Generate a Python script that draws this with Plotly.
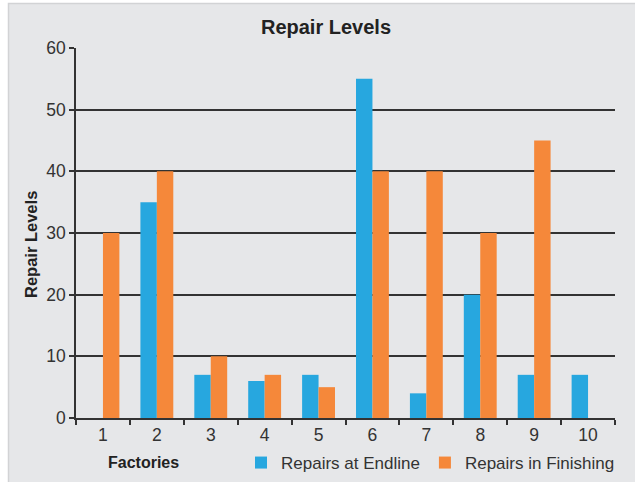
import plotly.graph_objects as go

factories = ["1", "2", "3", "4", "5", "6", "7", "8", "9", "10"]
endline = [0, 35, 7, 6, 7, 55, 4, 20, 7, 7]
finishing = [30, 40, 10, 7, 5, 40, 40, 30, 45, 0]
y_ticks = [0, 10, 20, 30, 40, 50, 60]

W, H = 635, 482
L, R, T, B = 76, 20, 48, 64
pw, ph = W - L - R, H - T - B

def px(x):
    return (x - L) / pw

def py(y):
    return (H - B - y) / ph

font = "Liberation Sans, Arial, sans-serif"
narrow = "Liberation Sans Narrow, Arial Narrow, Liberation Sans, sans-serif"

fig = go.Figure()
fig.add_trace(go.Bar(x=factories, y=endline, name="Repairs at Endline",
                     marker=dict(color="#27a7df", line=dict(width=0))))
fig.add_trace(go.Bar(x=factories, y=finishing, name="Repairs in Finishing",
                     marker=dict(color="#f5883a", line=dict(width=0))))

fig.update_layout(
    width=W, height=H,
    margin=dict(l=L, r=R, t=T, b=B, autoexpand=False),
    paper_bgcolor="white",
    plot_bgcolor="white",
    barmode="group",
    bargap=0.39,
    bargroupgap=0,
    font=dict(family=font, size=15, color="#333333"),
    title=dict(text="<b>Repair Levels</b>", x=326 / W, xanchor="center",
               y=1 - 27 / H, yanchor="middle",
               font=dict(size=20, color="#222222", family=font)),
    xaxis=dict(type="category", tickson="boundaries", ticks="outside", ticklen=5,
               tickwidth=1.5, tickcolor="#333333", showline=True, linecolor="#333333",
               linewidth=1.5, showgrid=False,
               tickfont=dict(size=17.5, color="#333333", family=narrow)),
    yaxis=dict(range=[0, 60], tickvals=y_ticks, ticks="outside", ticklen=5,
               tickwidth=1.5, tickcolor="#333333", showline=True, linecolor="#333333",
               linewidth=1.5, showgrid=True, gridcolor="#333333", gridwidth=1.5,
               zeroline=False,
               tickfont=dict(size=17.5, color="#333333", family=narrow)),
    legend=dict(orientation="h", x=px(620), xanchor="right", y=py(463), yanchor="middle",
                bgcolor="rgba(0,0,0,0)", font=dict(size=17, color="#333333"),
                itemwidth=30, traceorder="normal"),
    showlegend=True,
    shapes=[dict(type="rect", xref="paper", yref="paper", layer="below",
                 x0=px(8.5), x1=px(W + 5), y0=py(3.5), y1=py(H + 5),
                 fillcolor="#e6e7e9", line=dict(color="#d2d3d5", width=1.5))],
    annotations=[
        dict(text="<b>Factories</b>", xref="paper", yref="paper", x=px(143), y=py(462),
             xanchor="center", yanchor="middle", showarrow=False,
             font=dict(size=16, color="#222222", family=font)),
        dict(text="<b>Repair Levels</b>", xref="paper", yref="paper", x=px(31), y=py(245),
             xanchor="center", yanchor="middle", showarrow=False, textangle=-90,
             font=dict(size=16.5, color="#222222", family=font)),
    ],
)

fig.write_html("out.html")
